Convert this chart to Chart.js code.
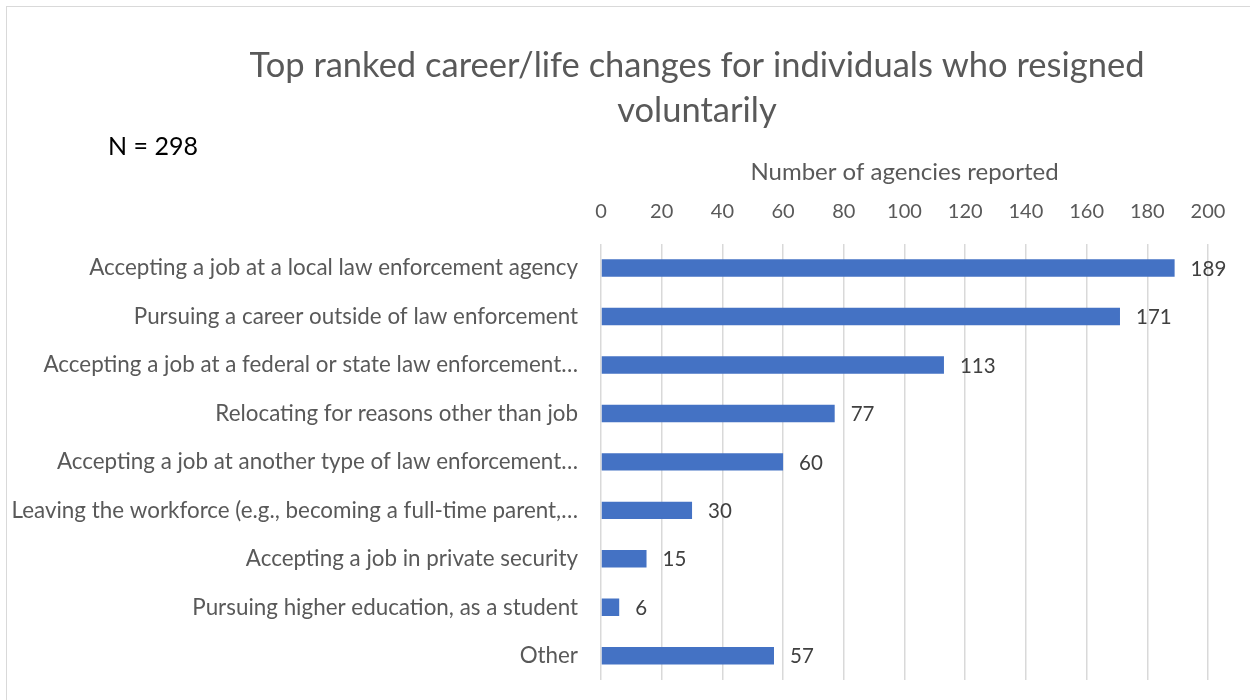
<!DOCTYPE html>
<html>
<head>
<meta charset="utf-8">
<script src="https://cdn.jsdelivr.net/npm/chart.js@4/dist/chart.umd.min.js"></script>
<style>
    body { margin: 0; background: #fff; }
    #wrap { position: relative; width: 1250px; height: 700px; overflow: hidden; }
    #frame { position: absolute; left: 6px; top: 6px; width: 1300px; height: 800px; border: 1px solid #d9d9d9; }
    #note { position: absolute; left: 108px; top: 130px; font-family: Lato, sans-serif; font-size: 25px; color: #000; }
    canvas { position: absolute; left: 0; top: 0; }
</style>
</head>
<body>
<div id="wrap">
    <div id="frame"></div>
    <canvas id="chart" width="1250" height="700"></canvas>
    <div id="note">N = 298</div>
</div>
<script>
// chart data
const categories = [
    'Accepting a job at a local law enforcement agency',
    'Pursuing a career outside of law enforcement',
    'Accepting a job at a federal or state law enforcement…',
    'Relocating for reasons other than job',
    'Accepting a job at another type of law enforcement…',
    'Leaving the workforce (e.g., becoming a full-time parent,…',
    'Accepting a job in private security',
    'Pursuing higher education, as a student',
    'Other'
];
const agencies = [189, 171, 113, 77, 60, 30, 15, 6, 57];
const titleLines = ['Top ranked career/life changes for individuals who resigned', 'voluntarily'];
const axisTitle = 'Number of agencies reported';

const FONT = 'Lato, sans-serif';

// chart title, centred a bit right of the canvas middle like the original
const chartTitle = {
    id: 'chartTitle',
    afterDraw(chart) {
        const ctx = chart.ctx;
        ctx.save();
        ctx.font = '34.5px ' + FONT;
        ctx.fillStyle = '#595959';
        ctx.textAlign = 'center';
        ctx.textBaseline = 'middle';
        titleLines.forEach((line, i) => ctx.fillText(line, 697, 66 + i * 45));
        ctx.restore();
    }
};

// draws the number next to each bar
const valueLabels = {
    id: 'valueLabels',
    afterDatasetsDraw(chart) {
        const ctx = chart.ctx;
        const meta = chart.getDatasetMeta(0);
        ctx.save();
        ctx.font = '20.5px ' + FONT;
        ctx.fillStyle = '#404040';
        ctx.textAlign = 'left';
        ctx.textBaseline = 'middle';
        meta.data.forEach((bar, i) => {
            ctx.fillText(String(chart.data.datasets[0].data[i]), bar.x + 16, bar.y + 1);
        });
        ctx.restore();
    }
};

new Chart(document.getElementById('chart'), {
    type: 'bar',
    data: {
        labels: categories,
        datasets: [{
            data: agencies,
            backgroundColor: '#4472C4',
            borderWidth: 0,
            barPercentage: 0.9,
            categoryPercentage: 0.4
        }]
    },
    plugins: [valueLabels, chartTitle],
    options: {
        indexAxis: 'y',
        responsive: false,
        animation: false,
        layout: { padding: { left: 0, right: 42, bottom: 20, top: 150 } },
        plugins: {
            legend: { display: false },
            tooltip: { enabled: false },
            title: { display: false }
        },
        scales: {
            x: {
                position: 'top',
                min: 0,
                max: 200,
                ticks: {
                    stepSize: 20,
                    color: '#595959',
                    font: { family: FONT, size: 20 },
                    padding: 20,
                    maxRotation: 0
                },
                grid: { color: '#d9d9d9', lineWidth: 1.5, drawTicks: false },
                border: { display: false },
                title: {
                    display: true,
                    text: axisTitle,
                    color: '#595959',
                    font: { family: FONT, size: 24 },
                    padding: { top: 8, bottom: -7 }
                }
            },
            y: {
                ticks: {
                    color: '#595959',
                    font: { family: FONT, size: 22.4 },
                    padding: 15,
                    autoSkip: false
                },
                grid: { display: false },
                border: { display: false },
                afterFit(scale) {
                    scale.width = 601;
                    scale.paddingTop = 0;
                    scale.paddingBottom = 0;
                }
            }
        }
    }
});
</script>
</body>
</html>
